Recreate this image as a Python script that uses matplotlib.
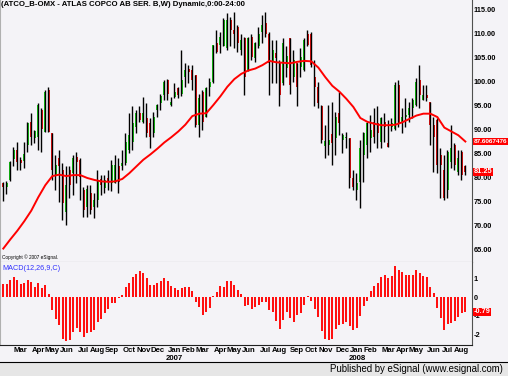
import numpy as np
import pandas as pd
import matplotlib
matplotlib.use('Agg')
import matplotlib.pyplot as plt
from matplotlib.patches import Rectangle
from matplotlib.lines import Line2D
from matplotlib.transforms import blended_transform_factory

plt.rcParams['font.family'] = ['Liberation Sans', 'DejaVu Sans']

# weekly bars, ATCO_B-OMX
dates = pd.date_range('2006-01-27', periods=133, freq='W-FRI')

opens = [79.0, 78.2, 79.6, 83.9, 85.8, 83.8, 83.6, 86.9, 91.7, 88.3,
         88.6, 94.2, 89.6, 98.3, 89.3, 80.6, 84.1, 81.7, 73.0, 81.7,
         81.0, 84.3, 83.8, 77.5, 74.0, 76.8, 74.0, 75.4, 79.7, 77.9,
         79.9, 78.9, 78.9, 82.4, 82.4, 83.1, 85.8, 87.6, 90.7, 93.5,
         91.7, 92.4, 91.4, 89.3, 94.2, 95.6, 97.3, 100.4, 95.2, 96.9,
         98.7, 97.6, 101.1, 102.8, 102.6, 101.5, 91.0, 98.0, 92.8, 99.0,
         100.1, 108.1, 107.7, 107.4, 107.0, 112.9, 110.8, 111.5, 106.7, 109.1,
         102.5, 109.4, 105.0, 107.4, 110.5, 112.2, 110.1, 104.2, 106.0, 103.9,
         99.7, 103.0, 109.1, 101.1, 103.9, 103.2, 102.5, 110.1, 110.1, 101.1,
         99.0, 94.9, 86.7, 86.9, 89.2, 88.3, 93.5, 87.9, 88.3, 88.3,
         79.9, 77.5, 79.2, 84.8, 86.9, 88.3, 91.7, 91.4, 87.6, 91.7,
         87.2, 90.7, 90.3, 99.4, 91.7, 92.8, 93.1, 94.5, 95.2, 100.4,
         96.3, 97.3, 95.9, 91.0, 92.1, 84.8, 81.7, 77.5, 83.4, 86.9,
         81.3, 85.5, 82.5]
highs = [79.2, 79.3, 83.6, 86.5, 87.6, 84.3, 87.6, 91.7, 93.5, 90.0,
         95.6, 94.5, 98.3, 99.0, 89.3, 84.8, 85.8, 83.1, 82.4, 82.4,
         84.8, 85.5, 84.1, 78.2, 78.5, 78.5, 76.8, 81.7, 80.6, 80.6,
         81.7, 83.8, 84.8, 84.1, 85.8, 89.3, 93.5, 94.9, 94.2, 94.9,
         96.9, 95.6, 92.4, 93.8, 95.5, 97.6, 100.4, 100.7, 96.9, 99.7,
         99.0, 106.7, 103.9, 103.5, 103.5, 101.5, 97.6, 98.3, 99.0, 100.8,
         107.7, 110.8, 110.5, 113.3, 114.3, 113.6, 114.6, 111.9, 110.0, 109.4,
         109.4, 110.1, 108.4, 111.5, 114.0, 114.5, 110.5, 108.7, 108.7, 104.6,
         109.1, 107.4, 109.1, 106.7, 103.9, 107.0, 109.1, 110.8, 110.5, 104.6,
         100.0, 95.2, 91.0, 95.2, 95.9, 93.8, 98.0, 89.3, 89.6, 88.3,
         81.7, 81.0, 87.9, 89.6, 91.7, 93.1, 94.5, 94.9, 92.8, 93.5,
         92.1, 92.4, 100.1, 100.4, 94.5, 96.6, 95.9, 96.6, 100.8, 103.5,
         99.4, 99.4, 95.9, 92.8, 92.4, 86.2, 84.8, 85.8, 91.0, 87.2,
         85.8, 85.8, 82.7]
lows = [75.2, 76.6, 79.3, 82.4, 81.7, 81.7, 82.0, 85.5, 86.9, 87.3,
        85.8, 85.5, 89.6, 89.6, 79.6, 77.5, 75.1, 71.3, 70.2, 75.8,
        76.5, 78.9, 75.4, 71.9, 71.9, 72.6, 71.6, 74.0, 76.5, 76.8,
        77.5, 77.2, 78.9, 76.8, 81.7, 82.7, 85.2, 85.8, 89.3, 91.7,
        91.4, 88.6, 86.2, 88.6, 92.8, 94.2, 96.3, 96.3, 94.9, 96.6,
        96.6, 97.0, 99.0, 99.7, 98.3, 90.7, 88.6, 90.0, 92.8, 97.0,
        99.7, 106.0, 106.0, 107.4, 106.7, 107.4, 107.0, 106.3, 105.6, 97.3,
        102.2, 104.6, 104.2, 107.0, 108.1, 109.4, 97.3, 99.7, 99.7, 94.9,
        99.4, 101.1, 97.6, 100.1, 94.9, 101.1, 102.2, 107.4, 103.2, 94.9,
        94.5, 87.2, 84.1, 84.8, 82.7, 84.8, 89.0, 85.2, 86.2, 77.9,
        77.5, 75.4, 73.7, 79.2, 84.1, 85.5, 87.2, 86.2, 86.2, 87.6,
        86.5, 89.7, 90.0, 90.7, 89.3, 90.7, 91.7, 92.4, 94.9, 94.5,
        96.3, 96.0, 86.9, 81.3, 81.0, 75.8, 75.4, 75.8, 82.0, 81.7,
        80.6, 79.6, 80.6]
closes = [78.1, 79.0, 83.4, 85.8, 83.4, 83.2, 85.1, 91.4, 88.6, 89.7,
          95.2, 90.3, 98.0, 89.6, 81.7, 82.7, 82.4, 74.7, 78.5, 78.5,
          84.1, 83.4, 80.3, 73.3, 77.8, 73.3, 75.4, 79.6, 78.5, 79.6,
          79.2, 82.7, 82.7, 79.2, 83.1, 87.6, 89.0, 91.4, 93.5, 92.1,
          93.5, 89.3, 88.6, 92.8, 95.2, 97.0, 100.1, 97.6, 95.9, 98.0,
          97.3, 100.4, 102.6, 102.1, 100.4, 91.0, 96.6, 91.7, 98.7, 100.1,
          107.7, 106.3, 109.4, 112.9, 112.9, 110.8, 110.1, 108.1, 108.7, 101.1,
          109.1, 105.3, 108.1, 110.1, 111.9, 110.1, 103.9, 106.7, 105.0, 97.3,
          108.1, 105.5, 99.4, 104.6, 99.0, 105.3, 108.7, 107.7, 103.6, 99.0,
          95.6, 87.9, 87.7, 87.9, 87.2, 92.8, 91.4, 88.9, 88.6, 79.9,
          78.2, 78.9, 86.2, 89.3, 91.4, 90.0, 88.6, 89.3, 92.4, 90.7,
          86.5, 91.4, 99.4, 91.4, 92.8, 93.1, 94.5, 96.3, 100.1, 97.3,
          97.3, 96.6, 91.0, 88.5, 82.7, 82.7, 75.8, 85.5, 86.2, 82.7,
          84.1, 80.6, 81.25]

# moving average, read every second week
ma_values = [65.3, 67.2, 69.0, 71.0, 73.2, 76.0, 78.5, 80.4, 80.7, 80.4,
             80.6, 80.6, 80.0, 79.6, 79.3, 79.2, 79.3, 79.8, 81.0, 82.4,
             83.8, 84.9, 86.1, 87.4, 88.5, 89.7, 91.1, 92.9, 93.4, 93.5,
             95.2, 97.0, 99.0, 100.6, 101.7, 102.4, 102.8, 103.5, 104.4, 104.1,
             104.0, 103.9, 104.2, 104.4, 104.3, 103.0, 101.0, 99.2, 98.0, 96.5,
             94.8, 92.5, 91.7, 91.3, 91.0, 91.0, 91.1, 91.6, 92.3, 93.0,
             93.4, 93.4, 92.7, 90.5, 89.7, 88.9, 87.6]
ma_last = 87.6067476

macd = [0.71, 0.71, 0.93, 1.07, 0.93, 0.71, 0.73, 0.93, 0.79, 0.52,
        0.73, 0.48, 0.66, 0.16, -0.70, -1.18, -1.50, -2.25, -2.36, -2.29,
        -1.89, -1.68, -1.86, -2.14, -1.93, -1.86, -1.77, -1.36, -1.18, -0.86,
        -0.64, -0.34, -0.34, -0.05, 0.13, 0.52, 0.75, 1.07, 1.25, 1.38,
        1.27, 1.04, 0.66, 0.66, 0.75, 0.84, 1.02, 0.84, 0.57, 0.50,
        0.39, 0.46, 0.55, 0.52, 0.32, -0.29, -0.52, -0.96, -0.79, -0.57,
        0.07, 0.29, 0.59, 0.52, 0.86, 0.84, 0.66, 0.36, 0.18, -0.46,
        -0.43, -0.64, -0.52, -0.43, -0.27, -0.27, -0.68, -0.79, -1.27, -1.71,
        -1.21, -0.82, -1.14, -1.32, -0.96, -0.88, -0.43, 0.03, -0.23, -0.64,
        -1.09, -1.80, -2.25, -2.29, -2.25, -1.71, -1.50, -1.45, -1.36, -1.54,
        -1.77, -1.66, -1.04, -0.46, -0.21, 0.34, 0.57, 0.75, 1.09, 1.20,
        1.02, 1.11, 1.64, 1.45, 1.32, 1.20, 1.20, 1.18, 1.43, 1.29,
        1.14, 1.05, 0.52, 0.21, -0.61, -1.14, -1.75, -1.43, -1.41, -1.27,
        -1.05, -0.88, -0.79]

price_ticks = [65, 70, 75, 80, 85, 90, 95, 100, 105, 110, 115]
macd_ticks = [1, 0, -1, -2]

BG = '#f4f3f7'
W, H = 508, 376
FS = 5.3
fig = plt.figure(figsize=(W / 100, H / 100), dpi=100, facecolor=BG)

def fy(py):
    return 1 - py / H

ax = fig.add_axes([0, fy(262), 472 / W, 262 / H], facecolor=BG)
ax2 = fig.add_axes([0, fy(345), 472 / W, 83 / H], facecolor=BG, sharex=ax)

idx = np.arange(len(dates))
o = np.array(opens)
c = np.array(closes)
up = c >= o
colors = np.where(up, '#16d016', '#ee1111')
body_lo = np.minimum(o, c)
body_h = np.maximum(np.abs(c - o), 0.25)

# candles
ax.bar(idx, body_h, bottom=body_lo, width=0.62, color=colors, linewidth=0, zorder=2)
ax.vlines(idx - 0.2, lows, highs, color='black', linewidth=1.0, zorder=3)
ax.plot(idx[::2], ma_values, color='#ff0000', linewidth=1.4, zorder=4)

ax.set_xlim(-0.94, 133.9)
ax.set_ylim(62.5, 117.08)

# MACD histogram
ax2.bar(idx, macd, width=0.6, color='#ff1010', linewidth=0)
ax2.set_ylim(-2.57, 1.875)

for a in (ax, ax2):
    a.spines['top'].set_visible(False)
    a.spines['left'].set_color('#b0b0b0')
    a.spines['right'].set_color('#505050')
    a.yaxis.tick_right()
    a.tick_params(axis='y', length=0, pad=1.2)
ax.spines['bottom'].set_color('#909090')
ax2.spines['bottom'].set_color('#202020')

ax.set_yticks(price_ticks)
ax.set_yticklabels([f'{v:.2f}' for v in price_ticks], fontweight='bold', fontsize=FS)
ax2.set_yticks(macd_ticks)
ax2.set_yticklabels([str(v) for v in macd_ticks], fontweight='bold', fontsize=FS)

# month ticks at the first bar of each month
month_pos = [i for i in range(2, len(dates)) if dates[i].month != dates[i - 1].month]
ax.tick_params(axis='x', length=0, labelbottom=False)
ax2.set_xticks(month_pos)
ax2.set_xticklabels([dates[i].strftime('%b') for i in month_pos], fontweight='bold', fontsize=5.6)
ax2.tick_params(axis='x', length=0, pad=1.5)
tr_x = blended_transform_factory(ax2.transData, ax2.transAxes)
for i in month_pos:
    if dates[i].month == 1:
        ax2.text(i, -0.16, str(dates[i].year), transform=tr_x, ha='center', va='center',
                 fontsize=5.6, fontweight='bold')

# last value boxes
tr = blended_transform_factory(ax.transAxes, ax.transData)
box = dict(boxstyle='square,pad=0.1', fc='#ff0000', ec='none')
ax.text(1.003, ma_last, f'{ma_last:.7f}', transform=tr, color='white', fontsize=4.6,
        fontweight='bold', va='center', ha='left', bbox=box, clip_on=False, zorder=6)
ax.text(1.003, closes[-1], f'{closes[-1]:.2f}', transform=tr, color='white', fontsize=FS,
        fontweight='bold', va='center', ha='left', bbox=box, clip_on=False, zorder=6)
tr2 = blended_transform_factory(ax2.transAxes, ax2.transData)
ax2.text(1.003, macd[-1], f'{macd[-1]:.2f}', transform=tr2, color='white', fontsize=FS,
         fontweight='bold', va='center', ha='left', bbox=box, clip_on=False, zorder=6)

# texts
fig.text(1 / W, fy(5), '(ATCO_B-OMX - ATLAS COPCO AB SER. B,W) Dynamic,0:00-24:00',
         fontsize=5.6, fontweight='bold', va='center', ha='left')
fig.text(2 / W, fy(257.5), 'Copyright \u00a9 2007 eSignal.', fontsize=3.4, va='center', ha='left')
fig.text(2 / W, fy(268), 'MACD(12,26,9,C)', fontsize=5.2, color='#3030ff', va='center', ha='left')

# footer
fig.add_artist(Rectangle((0, 0), 1, 14 / H, transform=fig.transFigure,
                         facecolor='#e6e6e6', edgecolor='none'))
fig.add_artist(Line2D([0, 1], [fy(362), fy(362)], transform=fig.transFigure,
                      color='black', linewidth=0.8))
fig.text(503 / W, fy(369.5), 'Published by eSignal (www.esignal.com)', fontsize=6.9,
         va='center', ha='right')

fig.savefig('out.png', dpi=100, facecolor=BG)
